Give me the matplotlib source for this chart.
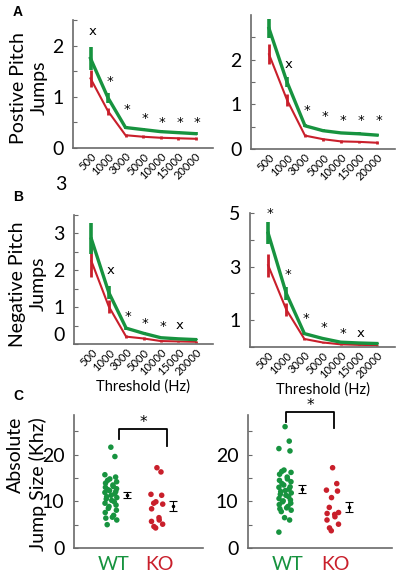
import numpy as np
import matplotlib
matplotlib.use("Agg")
import matplotlib.pyplot as plt
import matplotlib.transforms as mtransforms

plt.rcParams['font.family'] = ['Lato', 'DejaVu Sans']

GREEN = '#17933f'
RED = '#c91f2b'
AXIS = '#6a6a6a'

thresholds = ['500', '1000', '3000', '5000', '10000', '15000', '20000']

# Panel A (positive pitch jumps), left and right
a1_wt = [1.75, 0.98, 0.40, 0.36, 0.32, 0.30, 0.28]
a1_wt_err = [0.22, 0.10, 0.03, 0.03, 0.03, 0.03, 0.03]
a1_ko = [1.36, 0.72, 0.25, 0.22, 0.20, 0.19, 0.18]
a1_ko_err = [0.17, 0.07, 0.03, 0.03, 0.03, 0.03, 0.03]
a1_sig = ['x', '*', '*', '*', '*', '*', '*']
a1_sig_y = [2.27, 1.30, 0.75, 0.58, 0.50, 0.50, 0.50]

a2_wt = [2.70, 1.50, 0.52, 0.41, 0.36, 0.34, 0.31]
a2_wt_err = [0.22, 0.11, 0.03, 0.03, 0.03, 0.03, 0.03]
a2_ko = [2.12, 1.10, 0.30, 0.22, 0.17, 0.16, 0.14]
a2_ko_err = [0.22, 0.13, 0.03, 0.03, 0.03, 0.03, 0.03]
a2_sig = ['', 'x', '*', '*', '*', '*', '*']
a2_sig_y = [0, 1.90, 0.87, 0.72, 0.63, 0.63, 0.63]

# Panel B (negative pitch jumps)
b1_wt = [2.85, 1.40, 0.43, 0.29, 0.17, 0.14, 0.12]
b1_wt_err = [0.42, 0.18, 0.04, 0.03, 0.02, 0.02, 0.02]
b1_ko = [2.25, 1.02, 0.20, 0.15, 0.08, 0.07, 0.06]
b1_ko_err = [0.42, 0.18, 0.04, 0.03, 0.02, 0.02, 0.02]
b1_sig = ['', 'x', '*', '*', '*', 'x', '']
b1_sig_y = [0, 2.00, 0.74, 0.56, 0.47, 0.50, 0]

b2_wt = [4.25, 2.00, 0.50, 0.32, 0.18, 0.15, 0.13]
b2_wt_err = [0.40, 0.25, 0.04, 0.03, 0.02, 0.02, 0.02]
b2_ko = [3.05, 1.40, 0.30, 0.17, 0.10, 0.08, 0.07]
b2_ko_err = [0.42, 0.24, 0.04, 0.03, 0.02, 0.02, 0.02]
b2_sig = ['*', '*', '*', '*', '*', 'x', '']
b2_sig_y = [5.0, 2.70, 1.05, 0.74, 0.52, 0.50, 0]

# Panel C (absolute jump size, kHz)
groups = ['WT', 'KO']
c1_wt = [21.6, 19.6, 15.7, 15.2, 14.8, 14.5, 14.2, 13.9, 13.5, 13.2, 13.0, 12.7,
         12.5, 12.3, 12.1, 11.9, 11.6, 11.3, 11.0, 10.8, 10.5, 10.2, 9.9, 9.6,
         9.2, 8.9, 8.5, 8.1, 7.6, 7.0, 6.6, 6.4, 6.0, 5.0]
c1_ko = [17.2, 16.3, 11.5, 11.3, 9.9, 9.6, 9.4, 8.4, 6.5, 6.0, 5.7, 5.1, 4.6, 4.3]
c2_wt = [26.0, 22.9, 21.3, 20.8, 16.7, 16.4, 16.2, 15.8, 15.2, 14.8, 14.5, 14.2,
         13.8, 13.5, 13.1, 13.0, 12.6, 12.3, 12.1, 11.8, 11.5, 11.3, 11.0, 10.6,
         10.3, 10.1, 9.9, 9.6, 9.3, 8.9, 8.6, 8.4, 8.1, 7.8, 6.5, 6.0, 3.4]
c2_ko = [17.2, 13.8, 12.4, 12.2, 10.8, 8.7, 7.6, 7.4, 7.2, 6.7, 6.0, 5.1, 4.3, 3.7]


fig = plt.figure(figsize=(3.97, 5.73), dpi=100)
W, H = 397.0, 573.0


def add_ax(x0, y_top, x1, y_bot):
    # pixel box -> figure fraction
    return fig.add_axes([x0 / W, 1 - y_bot / H, (x1 - x0) / W, (y_bot - y_top) / H])


def style(ax):
    for s in ['top', 'right']:
        ax.spines[s].set_visible(False)
    for s in ['left', 'bottom']:
        ax.spines[s].set_color(AXIS)
        ax.spines[s].set_linewidth(1.2)
    ax.tick_params(axis='y', direction='in', length=3, color=AXIS, labelsize=14, pad=7)
    ax.tick_params(axis='x', direction='in', length=0, color=AXIS, pad=2)


def line_panel(ax, wt, wt_err, ko, ko_err, sig, sig_y, ylim, yticks, ylabels):
    x = np.arange(1, len(thresholds) + 1)
    ax.errorbar(x, ko, yerr=ko_err, color=RED, lw=1.5, elinewidth=2.0, capsize=0)
    ax.errorbar(x, wt, yerr=wt_err, color=GREEN, lw=2.4, elinewidth=2.6, capsize=0)
    for xi, s, sy in zip(x, sig, sig_y):
        if s:
            ax.text(xi + 0.1, sy, s, ha='center', va='center', fontsize=9.5,
                    family='DejaVu Sans', clip_on=False)
    ax.set_xlim(0, 8)
    ax.set_ylim(*ylim)
    ax.set_xticks(x)
    ax.set_xticklabels(thresholds, rotation=45, ha='right', rotation_mode='anchor',
                       fontsize=8)
    ax.set_yticks(yticks)
    ax.set_yticklabels(ylabels)
    style(ax)


ax_a1 = add_ax(73, 20, 213, 148)
line_panel(ax_a1, a1_wt, a1_wt_err, a1_ko, a1_ko_err, a1_sig, a1_sig_y,
           (0, 2.5), np.arange(0, 2.6, 0.5), ['0', '', '1', '', '2', ''])

ax_a2 = add_ax(251, 15, 395, 149)
line_panel(ax_a2, a2_wt, a2_wt_err, a2_ko, a2_ko_err, a2_sig, a2_sig_y,
           (0, 3), np.arange(0, 2.6, 0.5), ['0', '', '1', '', '2', ''])

ax_b1 = add_ax(74, 215, 213, 344)
line_panel(ax_b1, b1_wt, b1_wt_err, b1_ko, b1_ko_err, b1_sig, b1_sig_y,
           (0, 3.5), np.arange(0, 3.6, 0.5), ['0', '', '1', '', '2', '', '3', ''])
# the "0" label sits a little above its tick in the original
lab0 = ax_b1.get_yticklabels()[0]
lab0.set_transform(lab0.get_transform() +
                   mtransforms.ScaledTranslation(0, 7 / 72, fig.dpi_scale_trans))

ax_b2 = add_ax(250, 213, 395, 347)
line_panel(ax_b2, b2_wt, b2_wt_err, b2_ko, b2_ko_err, b2_sig, b2_sig_y,
           (0, 5), np.arange(0, 6, 1), ['', '1', '', '3', '', '5'])

for ax in (ax_b1, ax_b2):
    ax.set_xlabel('Threshold (Hz)', fontsize=10.5, labelpad=1)


def dots_panel(ax, wt, ko, sig_x, sig_drop, sig_top, xlim):
    for gi, (vals, col) in enumerate([(wt, GREEN), (ko, RED)]):
        v = np.array(vals)
        idx = np.arange(len(v))
        jit = 0.13 * np.sin(idx * 2.4)
        ax.scatter(gi + 1 - 0.05 + jit, v, s=16, color=col, edgecolors='none', zorder=3)
        m = v.mean()
        sem = v.std(ddof=1) / np.sqrt(len(v))
        ax.errorbar(gi + 1.3, m, yerr=sem, fmt='o', ms=1.5, color='black',
                    elinewidth=0.8, capsize=3, capthick=0.8)
    ax.plot([sig_x[0], sig_x[0], sig_x[1], sig_x[1]],
            [sig_drop[0], sig_top, sig_top, sig_drop[1]],
            color='black', lw=1.3, clip_on=False)
    ax.text((sig_x[0] + sig_x[1]) / 2, sig_top + 1.3, '*', ha='center', va='center',
            fontsize=11, family='DejaVu Sans', clip_on=False)
    ax.set_xlim(*xlim)
    ax.set_ylim(0, 28.5)
    ax.set_xticks([1, 2])
    ax.set_xticklabels(groups, fontsize=14)
    for lab, col in zip(ax.get_xticklabels(), [GREEN, RED]):
        lab.set_color(col)
    ax.set_yticks(np.arange(0, 26, 5))
    ax.set_yticklabels(['0', '', '10', '', '20', ''])
    style(ax)
    ax.tick_params(axis='x', pad=6)


ax_c1 = add_ax(74, 415, 203, 548)
dots_panel(ax_c1, c1_wt, c1_ko, (1.13, 2.17), (23.4, 21.8), 25.5, (0.15, 2.95))

ax_c2 = add_ax(248, 415, 392, 548)
dots_panel(ax_c2, c2_wt, c2_ko, (0.98, 1.98), (27.1, 25.7), 29.2, (0.17, 3.2))

# y labels and panel letters
fig.text(29 / W, 1 - 88 / H, 'Postive Pitch\nJumps', rotation=90, ha='center',
         va='center', fontsize=14, linespacing=1.3)
fig.text(28 / W, 1 - 284 / H, 'Negative Pitch\nJumps', rotation=90, ha='center',
         va='center', fontsize=14, linespacing=1.3)
fig.text(27 / W, 1 - 417 / H, 'Absolute\nJump Size (Khz)', rotation=90, ha='center',
         va='top', fontsize=14, linespacing=1.3, multialignment='right')
fig.text(61 / W, 1 - 185 / H, '3', ha='center', va='center', fontsize=14)

for letter, (px, py) in zip(['A', 'B', 'C'], [(18, 12), (18, 197), (18, 396)]):
    fig.text(px / W, 1 - py / H, letter, ha='center', va='center', fontsize=10,
             fontweight='bold', family='Liberation Sans')

fig.savefig('out.png', dpi=100)
